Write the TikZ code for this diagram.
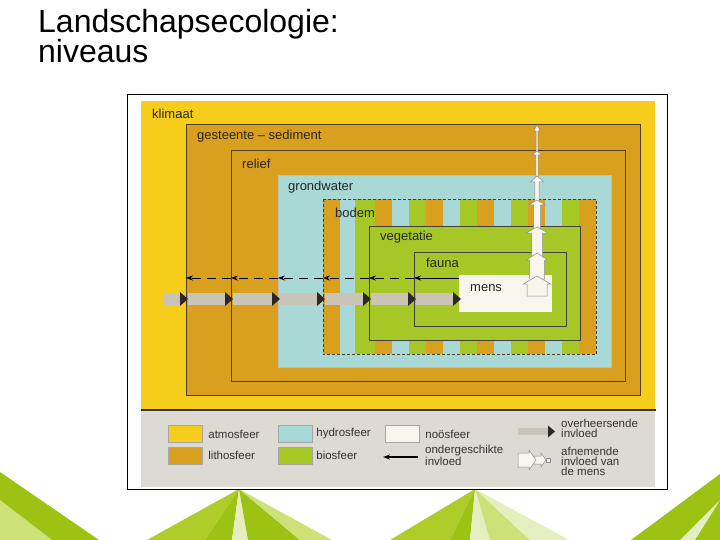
\documentclass[tikz,border=0pt]{standalone}
\usepackage{fontspec}
\setmainfont{Liberation Sans}
\usetikzlibrary{arrows.meta, positioning, calc}

\definecolor{klimaatgeel}{RGB}{245,205,26}
\definecolor{litho}{RGB}{217,159,30}
\definecolor{hydro}{RGB}{168,217,214}
\definecolor{bio}{RGB}{166,200,38}
\definecolor{noo}{RGB}{248,245,236}
\definecolor{legendagrijs}{RGB}{220,218,210}
\definecolor{balkgrijs}{RGB}{202,196,184}
\definecolor{puntdonker}{RGB}{45,40,35}
\definecolor{rand}{RGB}{80,62,25}
\definecolor{groen1}{RGB}{176,204,40}
\definecolor{groen2}{RGB}{156,194,20}
\definecolor{groenlicht}{RGB}{206,224,120}
\definecolor{groenbleek}{RGB}{228,238,190}

\begin{document}
\begin{tikzpicture}[x=1pt, y=-1pt,
    laag/.style={rectangle, anchor=north west, inner sep=0pt, draw=rand, line width=0.6pt},
    lbl/.style={anchor=west, inner sep=0pt, text=black!85, font=\fontsize{13}{15}\selectfont},
    staal/.style={rectangle, inner sep=0pt, minimum width=34pt, minimum height=17pt, draw=black!35},
    legtekst/.style={anchor=west, inner sep=0pt, align=left, text=black!80, font=\fontsize{11.5}{10}\selectfont},
    overheersend/.style={line width=12pt, draw=balkgrijs, -{Triangle[length=8pt, width=14pt, line width=0pt, color=puntdonker]}, shorten <=2pt, shorten >=-2pt},
    onderg/.style={line width=0.8pt, -{Stealth[length=7pt, width=5pt]}},
    afn/.style={fill=noo, draw=black!45, line width=0.5pt},
    titel/.style={anchor=base west, inner sep=0pt, font=\fontsize{32}{30}\selectfont},
]
    \useasboundingbox (0,0) rectangle (720,540);
    \fill[white] (0,0) rectangle (720,540);

    % Background triangles
    \fill[groen2] (0,472) -- (99,540) -- (0,540) -- cycle;
    \fill[groenlicht] (0,500) -- (52,540) -- (0,540) -- cycle;
    \fill[groen1] (239,489) -- (147,540) -- (205,540) -- cycle;
    \fill[groen2] (239,489) -- (205,540) -- (232,540) -- cycle;
    \fill[groenbleek] (239,489) -- (232,540) -- (248,540) -- cycle;
    \fill[groen2] (239,489) -- (248,540) -- (300,540) -- cycle;
    \fill[groenlicht] (239,489) -- (300,540) -- (332,540) -- cycle;
    \fill[groen1] (475,489) -- (390,540) -- (450,540) -- cycle;
    \fill[groen2] (475,489) -- (450,540) -- (470,540) -- cycle;
    \fill[groenbleek] (475,489) -- (470,540) -- (490,540) -- cycle;
    \fill[groenlicht] (475,489) -- (490,540) -- (530,540) -- cycle;
    \fill[groenbleek] (475,489) -- (530,540) -- (569,540) -- cycle;
    \fill[groen2] (720,474) -- (631,540) -- (720,540) -- cycle;
    \fill[groenbleek] (720,500) -- (680,540) -- (695,540) -- cycle;

    % Title
    \node (titel1) [titel] at (38,33) {Landschapsecologie:};
    \node (titel2) [titel] at (38,63) {niveaus};

    % Frame
    \node (kader) [laag, draw=black, line width=1.2pt, fill=white, minimum width=540pt, minimum height=395pt] at (127,94) {};

    % Levels
    \node (klimaat) [laag, draw=none, fill=klimaatgeel, minimum width=514pt, minimum height=308pt] at (141,101) {};
    \node (gesteente) [laag, fill=litho, minimum width=454pt, minimum height=271pt] at (186,124) {};
    \node (relief) [laag, fill=litho, minimum width=394pt, minimum height=231pt] at (231,150) {};
    \node (grondwater) [laag, draw=black!25, fill=hydro, minimum width=333pt, minimum height=192pt] at (278,175) {};
    \node (bodem) [laag, draw=none, minimum width=273pt, minimum height=155pt] at (323,199) {};
    \foreach \xa/\xb/\kl in {323/340/litho, 340/355/hydro, 355/375/bio}
        \fill[\kl] (\xa,199) rectangle (\xb,354);
    \foreach \i in {0,...,12} {
        \pgfmathtruncatemacro{\k}{mod(\i,3)}
        \ifcase\k \def\kl{litho}\or \def\kl{hydro}\or \def\kl{bio}\fi
        \fill[\kl] ({375+17*\i},199) rectangle ++(17,155);
    }
    \draw[rand, line width=0.6pt, densely dashed] (bodem.north west) rectangle (bodem.south east);
    \node (vegetatie) [laag, draw=black!75, fill=bio, minimum width=211pt, minimum height=114pt] at (369,226) {};
    \node (fauna) [laag, draw=black!75, fill=bio, minimum width=152pt, minimum height=74pt] at (414,252) {};
    \node (mens) [laag, draw=none, fill=noo, minimum width=93pt, minimum height=37pt] at (459,275) {};

    % Level labels
    \node (klimaat-l) [lbl] at ([shift={(11,12.5)}]klimaat.north west) {klimaat};
    \node (gesteente-l) [lbl] at ([shift={(11,12.5)}]gesteente.north west) {gesteente -- sediment};
    \node (relief-l) [lbl] at ([shift={(11,13.5)}]relief.north west) {relief};
    \node (grondwater-l) [lbl] at ([shift={(10,12.5)}]grondwater.north west) {grondwater};
    \node (bodem-l) [lbl] at ([shift={(12,13.5)}]bodem.north west) {bodem};
    \node (vegetatie-l) [lbl] at ([shift={(11,11.5)}]vegetatie.north west) {vegetatie};
    \node (fauna-l) [lbl] at ([shift={(12,11)}]fauna.north west) {fauna};
    \node (mens-l) [lbl] at ([shift={(11,13)}]mens.north west) {mens};

    % Decreasing influence of man
    \coordinate (as) at (537,0);
    \coordinate (mensvoet) at (537,292);
    \foreach \lo/\hi/\sw/\rw/\rh in {relief.north/gesteente.north/0.8/3.3/6, grondwater.north/relief.north/1.2/5/4,
        bodem.north/grondwater.north/2.2/6.7/6, vegetatie.north/bodem.north/3.5/8.5/5,
        fauna.north/vegetatie.north/5.5/11/6, mens.north/fauna.north/7.5/10.5/7, mensvoet/mens.north/10/13.5/8} {
        \path (as |- \lo) coordinate (p) (as |- \hi) coordinate (q);
        \draw[afn] ($(p)+(-\sw,4)$) -- ($(q)+(-\sw,\rh+1)$) -- ($(q)+(-\rw,\rh+1)$) -- ($(q)+(0,1)$)
            -- ($(q)+(\rw,\rh+1)$) -- ($(q)+(\sw,\rh+1)$) -- ($(p)+(\sw,4)$) -- cycle;
    }

    % Dominant influence
    \coordinate (balkstart) at (161,299);
    \draw[overheersend] (balkstart) -- (gesteente.west |- balkstart);
    \foreach \a/\b in {gesteente/relief, relief/grondwater, grondwater/bodem, bodem/vegetatie, vegetatie/fauna, fauna/mens}
        \draw[overheersend] (\a.west |- balkstart) -- (\b.west |- balkstart);

    % Subordinate influence
    \coordinate (pijlhoogte) at (0,278);
    \draw[onderg] (mens.west |- pijlhoogte) -- (fauna.west |- pijlhoogte);
    \foreach \a/\b in {fauna/vegetatie, vegetatie/bodem, bodem/grondwater, grondwater/relief, relief/gesteente}
        \draw[onderg, dash pattern=on 9pt off 6pt] (\a.west |- pijlhoogte) -- (\b.west |- pijlhoogte);

    % Legend
    \node (legenda) [laag, draw=none, fill=legendagrijs, minimum width=514pt, minimum height=77pt] at (141,410) {};
    \draw[line width=1.2pt, black!80] (legenda.north west) -- (legenda.north east);

    \node (atmo) [staal, fill=klimaatgeel] at (185,434) {};
    \node (atmo-t) [legtekst, right=6pt of atmo] {atmosfeer};
    \node (litho) [staal, fill=litho, below=4pt of atmo] {};
    \node (litho-t) [legtekst, right=6pt of litho] {lithosfeer};
    \node (hydro) [staal, fill=hydro] at (295,434) {};
    \node (hydro-t) [legtekst, right=4pt of hydro] {hydrosfeer};
    \node (bio) [staal, fill=bio, below=4pt of hydro] {};
    \node (bio-t) [legtekst, right=4pt of bio] {biosfeer};
    \node (noo) [staal, fill=noo] at (402,434) {};
    \node (noo-t) [legtekst, right=6pt of noo] {noösfeer};

    \node (onderg-t) [legtekst] at (425,455.5) {ondergeschikte\\invloed};
    \coordinate (onderg-begin) at (418,457);
    \coordinate (onderg-eind) at (383,457);
    \draw[onderg, line width=1.2pt] (onderg-begin) -- (onderg-eind);

    \node (ov-t) [legtekst] at (561,428) {overheersende\\invloed};
    \coordinate (ov-begin) at (516,431.5);
    \coordinate (ov-eind) at (555,431.5);
    \draw[overheersend, line width=7pt, -{Triangle[length=7pt, width=12pt, line width=0pt, color=puntdonker]}, shorten >=0pt] (ov-begin) -- (ov-eind);

    \node (afn-t) [legtekst] at (561,461) {afnemende\\invloed van\\de mens};
    \draw[afn] (534,456) -- (541,456) -- (541,453) -- (546,460) -- (541,467) -- (541,464) -- (534,464) -- cycle;
    \draw[afn] (518,453) -- (529,453) -- (529,450) -- (536,460) -- (529,470) -- (529,467) -- (518,467) -- cycle;
    \draw[afn] (546,458) rectangle (550,462);

\end{tikzpicture}
\end{document}
